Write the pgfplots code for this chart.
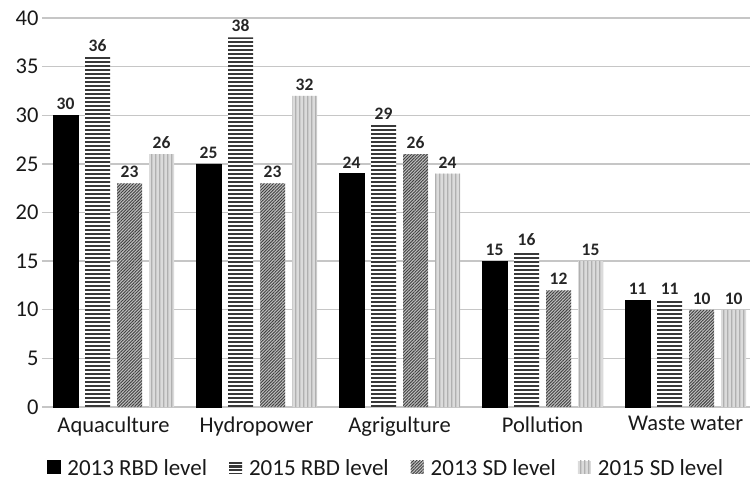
\documentclass[border=0pt]{standalone}
\usepackage{fontspec}
\setmainfont{Carlito}
\usepackage{pgfplots}
\pgfplotsset{compat=1.18}
\usetikzlibrary{patterns,patterns.meta}

% wide tiles, so that the stripes show no seams inside a bar
\pgfdeclarepatternformonly{hstripes}{\pgfpointorigin}{\pgfpoint{200pt}{3.6pt}}{\pgfpoint{200pt}{3.6pt}}{%
  \pgfpathrectangle{\pgfpoint{0pt}{0pt}}{\pgfpoint{200pt}{2.2pt}}\pgfusepath{fill}}
\pgfdeclarepatternformonly{vstripes}{\pgfpointorigin}{\pgfpoint{3.6pt}{200pt}}{\pgfpoint{3.6pt}{200pt}}{%
  \pgfpathrectangle{\pgfpoint{0pt}{0pt}}{\pgfpoint{1.4pt}{200pt}}\pgfusepath{fill}}

\tikzset{
  s13rbd/.style={fill=black, draw=black},
  s15rbd/.style={fill=white, draw=none, postaction={pattern=hstripes, pattern color=black!78}},
  s13sd/.style={fill=gray!50, draw=none, postaction={pattern={Lines[angle=45,distance=2.2pt,line width=0.9pt]}, pattern color=black!75}},
  s15sd/.style={fill=gray!28, draw=none, postaction={pattern=vstripes, pattern color=gray!62}},
}

\begin{document}
\begin{tikzpicture}
\begin{axis}[
    at={(0,0)}, anchor=south west,
    scale only axis,
    width=708pt, height=389pt,
    ybar=7pt, bar width=25pt,
    xmin=-0.5, xmax=4.45,
    ymin=0, ymax=40,
    ytick={0,5,...,40},
    xtick={0,1,2,3,4},
    xticklabels={Aquaculture,Hydropower,Agrigulture,Pollution,Waste water},
    major tick length=0pt,
    axis line style={draw=none},
    ymajorgrids,
    grid style={gray!45, line width=1.3pt},
    tick label style={font=\fontsize{22.5}{26}\selectfont, text=black!90},
    /pgf/number format/assume math mode=true,
    xticklabel style={yshift=-6pt},
    yticklabel style={xshift=0pt},
    nodes near coords,
    every node near coord/.append style={font=\fontsize{17.5}{21}\selectfont\bfseries, text=black!85, yshift=2pt},
    legend columns=4,
    legend style={at={(0.486,-0.125)}, anchor=north, draw=none,
        font=\fontsize{23}{26}\selectfont, text=black!90,
        /tikz/every odd column/.append style={column sep=5pt},
        /tikz/every even column/.append style={column sep=20pt}},
    legend image code/.code={\path[#1] (0pt,-5pt) rectangle (13pt,8pt);},
]
\addplot[s13rbd] coordinates {(0,30) (1,25) (2,24) (3,15) (4,11)};
\addlegendentry{2013 RBD level}
\addplot[s15rbd] coordinates {(0,36) (1,38) (2,29) (3,16) (4,11)};
\addlegendentry{2015 RBD level}
\addplot[s13sd] coordinates {(0,23) (1,23) (2,26) (3,12) (4,10)};
\addlegendentry{2013 SD level}
\addplot[s15sd] coordinates {(0,26) (1,32) (2,24) (3,15) (4,10)};
\addlegendentry{2015 SD level}
\end{axis}
\pgfresetboundingbox
\path (-42pt,-75pt) rectangle (710pt,407pt);
\end{tikzpicture}
\end{document}
